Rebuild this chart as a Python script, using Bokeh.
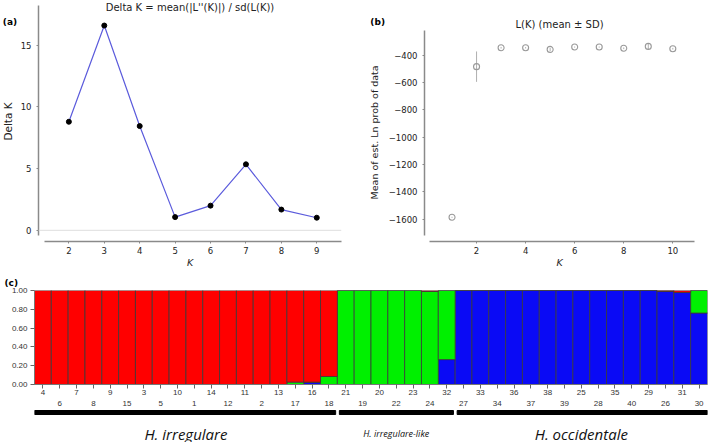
import numpy as np
from bokeh.plotting import figure
from bokeh.models import Range1d, Label, Span, FixedTicker, ColumnDataSource, NumeralTickFormatter, Title
from bokeh.layouts import column, row
from bokeh.embed import file_html
from bokeh.resources import INLINE
from bokeh.core.properties import value

# ---------------- data ----------------
# (a) Delta K
k_delta = [2, 3, 4, 5, 6, 7, 8, 9]
delta_k = [8.8, 16.6, 8.45, 1.07, 2.0, 5.35, 1.68, 1.02]

# (b) L(K) mean +- SD
k_lk = [1, 2, 3, 4, 5, 6, 7, 8, 9, 10]
lk_mean = [-1585, -485, -347, -347, -359, -342, -342, -351, -337, -354]
lk_sd = [4, 111, 6, 5, 12, 4, 4, 6, 20, 6]

# (c) STRUCTURE membership (K = 3)
ind_labels = ["4", "6", "7", "8", "9", "15", "3", "5", "10", "1", "14", "12", "11", "2", "13", "17", "16", "18",
              "21", "19", "20", "22", "23", "24", "32",
              "27", "33", "34", "36", "37", "38", "39", "25", "28", "35", "40", "29", "26", "31", "30"]
q_blue = [0, 0, 0, 0, 0, 0, 0, 0, 0, 0, 0, 0, 0, 0, 0, 0, 0.025, 0,
          0, 0, 0, 0, 0, 0, 0.265,
          1, 1, 1, 1, 1, 1, 1, 1, 1, 1, 1, 1, 0.992, 0.98, 0.76]
q_green = [0, 0, 0, 0, 0, 0, 0, 0, 0, 0, 0, 0, 0, 0, 0, 0.025, 0, 0.085,
           1, 1, 1, 1, 1, 0.99, 0.735,
           0, 0, 0, 0, 0, 0, 0, 0, 0, 0, 0, 0, 0, 0, 0.24]
q_red = [round(1 - b - g, 4) for b, g in zip(q_blue, q_green)]
groups = ["H. irregulare", "H. irregulare-like", "H. occidentale"]
group_sizes = [18, 7, 15]

# ---------------- style ----------------
F = "DejaVu Sans"
TXT = "#222222"
AXC = "#8a8a8a"
TOP_H = 270          # height of the top row
BOT_B = 27           # bottom border shared by the top row
FRAME_B = TOP_H - BOT_B


def style_axes(p):
    for ax in (p.xaxis[0], p.yaxis[0]):
        ax.axis_line_color = AXC
        ax.axis_line_width = 1.5
        ax.major_tick_line_color = AXC
        ax.major_tick_out = 2
        ax.major_tick_in = 0
        ax.minor_tick_line_color = None
        ax.major_label_text_font = F
        ax.major_label_text_font_size = "8.5px"
        ax.major_label_text_color = TXT
        ax.axis_label_text_font = F
        ax.axis_label_text_font_size = "9.5px"
        ax.axis_label_text_font_style = "italic"
        ax.axis_label_text_color = TXT
    p.xgrid.visible = False
    p.ygrid.visible = False
    p.outline_line_color = None


def side_fig(w):
    # narrow text strip; data coordinates equal page pixels inside it
    s = figure(width=w, height=TOP_H, output_backend="svg", toolbar_location=None,
               x_range=Range1d(0, w), y_range=Range1d(FRAME_B, 0), x_axis_type=None, y_axis_type=None,
               min_border_left=0, min_border_right=0, min_border_top=0, min_border_bottom=BOT_B)
    s.xgrid.visible = False
    s.ygrid.visible = False
    s.outline_line_color = None
    return s


# ---------------- strip left of (a) ----------------
WNA = 17
na = side_fig(WNA)
na.text(x=[9.5], y=[22], text=["(a)"], text_font=value(F), text_font_style="bold", text_font_size=value("9px"),
        text_align="center", text_baseline="middle", text_color="black")
na.text(x=[7.5], y=[122], text=["Delta K"], angle=np.pi / 2, text_font=value(F), text_font_size=value("10.5px"),
        text_align="center", text_baseline="middle", text_color=TXT)

# ---------------- panel (a) ----------------
WA = 338
XA = (1.1425, 9.698)
YA = (-0.908, 18.63)
pa = figure(width=WA, height=TOP_H, output_backend="svg", toolbar_location=None,
            x_range=Range1d(*XA), y_range=Range1d(*YA),
            min_border_left=18, min_border_right=14, min_border_top=0, min_border_bottom=BOT_B)
style_axes(pa)
pa.xaxis.ticker = FixedTicker(ticks=k_delta)
pa.yaxis.ticker = FixedTicker(ticks=[0, 5, 10, 15])
pa.xaxis.bounds = (1.3, 9.7)
pa.yaxis.bounds = (-0.43, 18.22)
pa.xaxis.major_label_standoff = 3
pa.yaxis.major_label_standoff = 5
pa.xaxis.axis_label = "K"
pa.xaxis.axis_label_standoff = 0
pa.add_layout(Span(location=0, dimension="width", line_color="#dedede", line_width=1))
pa.line(k_delta, delta_k, line_color="#5b5bdc", line_width=1.2)
pa.scatter(k_delta, delta_k, size=5, color="black")
pa.add_layout(Label(x=(XA[0] + XA[1]) / 2, y=18.06, text="Delta K = mean(|L''(K)|) / sd(L(K))",
                    text_font=F, text_font_size="10px", text_align="center",
                    text_baseline="middle", text_color=TXT))

# ---------------- strip left of (b) ----------------
WNB = 30
nb = side_fig(WNB)
nb.text(x=[WNB - 0.5], y=[22], text=["(b)"], text_font=value(F), text_font_style="bold",
        text_font_size=value("9px"), text_align="right", text_baseline="middle", text_color="black")
nb.text(x=[19], y=[133], text=["Mean of est. Ln prob of data"], angle=np.pi / 2, text_font=value(F),
        text_font_size=value("9.5px"), text_align="center", text_baseline="middle", text_color=TXT)

# ---------------- panel (b) ----------------
WB = 709 - WNA - WA - WNB
XB = (-0.122, 10.884)
YB = (-1761.5, -2.0)
pb = figure(width=WB, height=TOP_H, output_backend="svg", toolbar_location=None,
            x_range=Range1d(*XB), y_range=Range1d(*YB),
            min_border_left=36, min_border_right=15, min_border_top=0, min_border_bottom=BOT_B)
style_axes(pb)
pb.xaxis.ticker = FixedTicker(ticks=[2, 4, 6, 8, 10])
yt = [-1600, -1400, -1200, -1000, -800, -600, -400]
pb.yaxis.ticker = FixedTicker(ticks=yt)
pb.yaxis.major_label_overrides = {v: "\u2212" + str(abs(v)) for v in yt}
pb.xaxis.bounds = (0.1, 10.9)
pb.yaxis.bounds = (-1718, -219)
pb.xaxis.major_label_standoff = 3
pb.yaxis.major_label_standoff = 5
pb.xaxis.axis_label = "K"
pb.xaxis.axis_label_standoff = 0
lo = [m - s for m, s in zip(lk_mean, lk_sd)]
hi = [m + s for m, s in zip(lk_mean, lk_sd)]
pb.segment(x0=k_lk, y0=lo, x1=k_lk, y1=hi, line_color="#b0b0b0", line_width=1)
pb.scatter(k_lk, lk_mean, size=6, marker="circle", fill_color="white", fill_alpha=0.0,
           line_color="#999999", line_width=1.1)
pb.add_layout(Label(x=(XB[0] + XB[1]) / 2, y=-400 + (55 - 24) * 7.242, text="L(K) (mean \u00b1 SD)",
                    text_font=F, text_font_size="10px", text_align="center",
                    text_baseline="middle", text_color=TXT))

# ---------------- panel (c) bars ----------------
n = len(ind_labels)
xr = Range1d(0, n)
centers = [i + 0.5 for i in range(n)]
top_idx = list(range(0, n, 2))
bot_idx = list(range(1, n, 2))
src = ColumnDataSource(dict(x=centers, blue=q_blue, green=q_green, red=q_red))
C1_H = 129
c1 = figure(width=709, height=C1_H, output_backend="svg", toolbar_location=None,
            x_range=xr, y_range=Range1d(0, 1),
            min_border_left=34, min_border_right=2, min_border_top=20, min_border_bottom=15)
c1.vbar_stack(["blue", "green", "red"], x="x", width=1.0, source=src,
              fill_color=["#0a0af5", "#00f000", "#ff0000"], line_color="#3a3a3a", line_width=0.8)
c1.xgrid.visible = False
c1.ygrid.visible = False
c1.outline_line_color = None
c1.xaxis.ticker = FixedTicker(ticks=[centers[i] for i in top_idx], minor_ticks=[centers[i] for i in bot_idx])
c1.xaxis.major_label_overrides = {centers[i]: ind_labels[i] for i in top_idx}
c1.xaxis.major_label_text_font = "Liberation Sans"
c1.xaxis.major_label_text_font_size = "8px"
c1.xaxis.major_label_text_color = "#333333"
c1.xaxis.major_label_standoff = 1
c1.xaxis.major_tick_out = 4
c1.xaxis.major_tick_in = 0
c1.xaxis.minor_tick_out = 4
c1.xaxis.minor_tick_in = 0
c1.xaxis.major_tick_line_color = "#666666"
c1.xaxis.minor_tick_line_color = "#666666"
c1.xaxis.axis_line_color = "#777777"
c1.yaxis.ticker = FixedTicker(ticks=[0, 0.2, 0.4, 0.6, 0.8, 1.0])
c1.yaxis.formatter = NumeralTickFormatter(format="0.00")
c1.yaxis.major_label_text_font = "Liberation Sans"
c1.yaxis.major_label_text_font_size = "8px"
c1.yaxis.major_label_text_color = "#333333"
c1.yaxis.major_label_standoff = 3
c1.yaxis.major_tick_out = 4
c1.yaxis.major_tick_in = 0
c1.yaxis.major_tick_line_color = "#666666"
c1.yaxis.axis_line_color = "#777777"
c1.yaxis.minor_tick_line_color = None
c1.add_layout(Title(text="(c)", align="left", offset=-30, standoff=1, vertical_align="top",
                    text_font=F, text_font_style="bold",
                    text_font_size="9px", text_color="black"), "above")

# ---------------- panel (c) labels / groups ----------------
C2_TOP = TOP_H + C1_H
C2_H = 442 - C2_TOP
c2 = figure(width=709, height=C2_H, output_backend="svg", toolbar_location=None,
            x_range=xr, y_range=Range1d(442, C2_TOP), x_axis_type=None, y_axis_type=None,
            min_border_left=34, min_border_right=2, min_border_top=0, min_border_bottom=0)
c2.xgrid.visible = False
c2.ygrid.visible = False
c2.outline_line_color = None
c2.text(x=[centers[i] for i in bot_idx], y=[403] * len(bot_idx), text=[ind_labels[i] for i in bot_idx],
        text_font=value("Liberation Sans"), text_font_size=value("8px"),
        text_align="center", text_baseline="middle", text_color="#333333")
starts = list(np.cumsum([0] + group_sizes[:-1]))
ends = list(np.cumsum(group_sizes))
bl = [s + (0.12 if s > 0 else 0) for s in starts]
br = [e - (0.1 if e < n else 0) for e in ends]
c2.quad(left=bl, right=br, bottom=414, top=410, color="black")
gc = [(s + e) / 2 for s, e in zip(starts, ends)]
c2.text(x=gc, y=[433] * 3, text=groups, text_font=value("Open Sans"), text_font_style="italic",
        text_font_size=["15px", "9px", "15px"], text_align="center", text_baseline="middle",
        text_color="#111111")

layout = column(row(na, pa, nb, pb), c1, c2)
open("out.html", "w").write(file_html(layout, INLINE))
